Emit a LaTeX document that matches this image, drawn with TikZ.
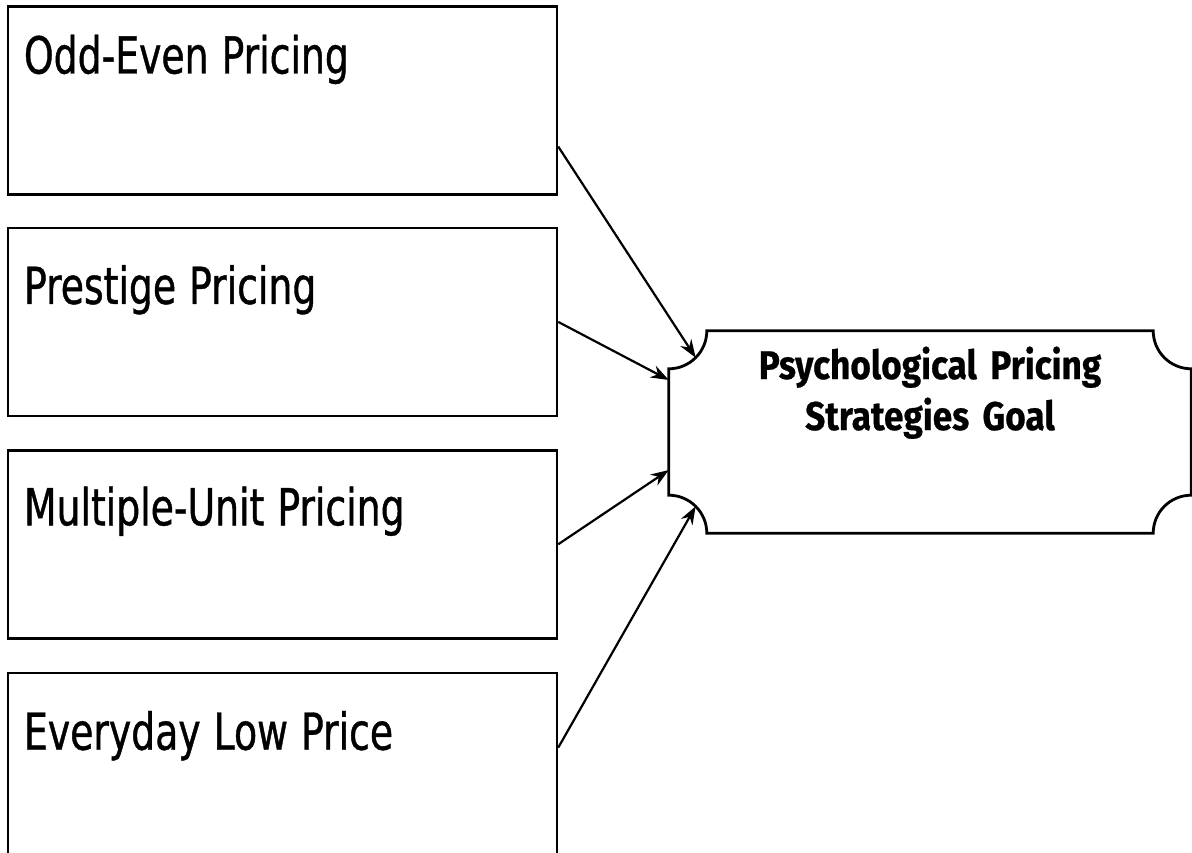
\documentclass[tikz,border=0pt]{standalone}
\usepackage{fontspec}
\setmainfont{DejaVu Sans}[FakeStretch=0.74, FakeBold=0.8]
\newfontfamily\goalfont{Fira Sans}[FakeStretch=0.88, FakeBold=0.6]
\usetikzlibrary{positioning,calc,arrows.meta}

\tikzset{
  stratbox/.style={draw, line width=2.4pt, rectangle, minimum width=549pt,
    inner xsep=16pt, inner ysep=0pt, text width=517pt, align=left,
    text height=#1, text depth={188pt-#1},
    font=\fontsize{51}{60}\selectfont,
    execute at begin node={\spaceskip=13pt\relax}},
  goalshape/.style={line width=2.8pt},
  pointer/.style={line width=2.2pt, -{Stealth[length=18pt,width=13pt]}},
}

\begin{document}
\begin{tikzpicture}[x=1pt,y=1pt,yscale=-1,node distance=32pt]
\useasboundingbox (0,0) rectangle (1192,853);

%Shape: Rectangle (left column)
\node (odd) [stratbox=67pt] at (282.5,100.5) {Odd-Even Pricing};
\node (prestige) [stratbox=76pt, below=31pt of odd] {Prestige Pricing};
\node (multiple) [stratbox=75pt, below=of prestige] {Multiple-Unit Pricing};
\node (everyday) [stratbox=77pt, below=of multiple] {Everyday Low Price};

%Shape: Plaque
\node (goal) [minimum width=522pt, minimum height=202pt, inner xsep=0pt, inner ysep=0pt,
  text width=510pt, align=center, text height=48pt, text depth=154pt,
  font=\goalfont\bfseries\fontsize{40}{51}\selectfont] at (930,432)
  {Psychological Pricing\\Strategies Goal\hspace*{8pt}};
\draw[goalshape] ($(goal.north west)+(38,0)$) -- ($(goal.north east)+(-38,0)$)
  arc[start angle=180, end angle=90, radius=38] -- ($(goal.south east)+(0,-38)$)
  arc[start angle=270, end angle=180, radius=38] -- ($(goal.south west)+(38,0)$)
  arc[start angle=0, end angle=-90, radius=38] -- ($(goal.north west)+(0,38)$)
  arc[start angle=90, end angle=0, radius=38] -- cycle;

%Straight Lines
\draw[pointer] ($(odd.east)+(0,46)$) -- ($(goal.north west)+(45:38)$);
\draw[pointer] (prestige.east) -- ($(goal.west)+(0,-52)$);
\draw[pointer] (multiple.east) -- ($(goal.west)+(0,38)$);
\draw[pointer] ($(everyday.east)+(0,-19)$) -- ($(goal.south west)+(-45:38)$);
\end{tikzpicture}
\end{document}
